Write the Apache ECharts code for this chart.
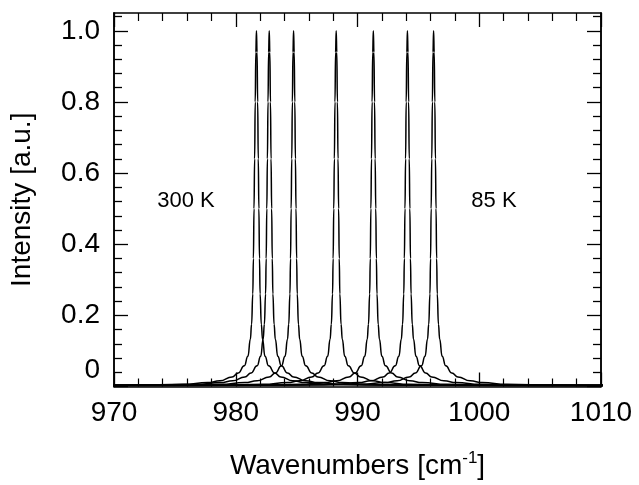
<!DOCTYPE html>
<html>
<head>
<meta charset="utf-8">
<script src="https://cdn.jsdelivr.net/npm/echarts@6/dist/echarts.min.js"></script>
<style>html,body{margin:0;padding:0;background:#fff;}#c{width:639px;height:485px;}</style>
</head>
<body>
<div id="c"></div>
<script>
// Peak centres (cm^-1), 300 K (left) to 85 K (right)
const peakCenters = [981.7, 982.75, 984.75, 988.25, 991.3, 994.1, 996.25];
// Line profile: offset from centre (cm^-1) and normalised intensity
const profileOffset = [0, 0.05, 0.1, 0.15, 0.2, 0.25, 0.3, 0.4, 0.5, 0.7, 1.0, 1.5, 2.0, 3.0, 4.0, 6.0, 10, 20, 40];
const profileIntensity = [1.0, 0.94, 0.8, 0.64, 0.5, 0.36, 0.26, 0.175, 0.133, 0.085, 0.058, 0.038, 0.027, 0.016, 0.011, 0.006, 0.004, 0.003, 0.002];
// Tick values
const xTicks = [970, 980, 990, 1000, 1010];
const yMajorTicks = [0, 0.2, 0.4, 0.6, 0.8, 1.0];
const yMinorTicks = [0.04, 0.08, 0.12, 0.16, 0.24, 0.28, 0.32, 0.36, 0.44, 0.48, 0.52, 0.56, 0.64, 0.68, 0.72, 0.76, 0.84, 0.88, 0.92, 0.96, 1.04];
const texts = { xName: 'Wavenumbers [cm', xSup: '-1', yName: 'Intensity [a.u.]', left: '300 K', right: '85 K' };

function peakData(c) {
  const pts = [];
  for (let i = profileOffset.length - 1; i >= 1; i--) pts.push([c - profileOffset[i], profileIntensity[i]]);
  pts.push([c, profileIntensity[0]]);
  for (let i = 1; i < profileOffset.length; i++) pts.push([c + profileOffset[i], profileIntensity[i]]);
  return pts;
}

const FONT = '"Liberation Sans", Arial, Helvetica, sans-serif';
const lineStyle = { color: '#000', width: 1.5 };

function xAx(pos, labels) {
  return {
    type: 'value', position: pos, min: 970, max: 1010, interval: 10,
    axisLine: { show: true, onZero: false, lineStyle: { color: '#000', width: 1.5 } },
    axisTick: { show: true, inside: true, length: 14, lineStyle: { color: '#000', width: 1.3 } },
    minorTick: { show: true, splitNumber: 5, length: 8, lineStyle: { color: '#000', width: 1.2 } },
    splitLine: { show: false }, minorSplitLine: { show: false },
    axisLabel: labels ? { show: true, fontSize: 28, fontFamily: FONT, color: '#000', margin: 13,
      customValues: xTicks, formatter: function (v) { return String(v); } } : { show: false },
    name: labels ? texts.xName + '{sup|' + texts.xSup + '}]' : '',
    nameLocation: 'middle', nameGap: 63,
    nameTextStyle: { fontSize: 28, fontFamily: FONT, color: '#000',
      rich: { sup: { fontSize: 17, fontFamily: FONT, color: '#000', padding: [0, 0, 16, 0] } } }
  };
}
function yAx(pos, values, len, labels) {
  return {
    type: 'value', position: pos, min: 0, max: 1.05,
    axisLine: { show: true, onZero: false, lineStyle: { color: '#000', width: 1.5 } },
    axisTick: { show: true, inside: true, length: len, customValues: values, lineStyle: { color: '#000', width: 1.3 } },
    splitLine: { show: false },
    axisLabel: labels ? { show: true, fontSize: 28, fontFamily: FONT, color: '#000', margin: 14,
      customValues: yMajorTicks,
      formatter: function (v) { return v === 0 ? '{z|0}' : v.toFixed(1); },
      rich: { z: { fontSize: 28, fontFamily: FONT, color: '#000', padding: [0, 0, 32, 0] } } } : { show: false },
    name: labels ? texts.yName : '',
    nameLocation: 'middle', nameGap: 78,
    nameTextStyle: { fontSize: 28, fontFamily: FONT, color: '#000' }
  };
}

const series = peakCenters.map(function (c) {
  return { type: 'line', xAxisIndex: 0, yAxisIndex: 0, data: peakData(c), showSymbol: false,
    smooth: true, smoothMonotone: 'x', clip: true, lineStyle: lineStyle, silent: true, animation: false };
});

const chart = echarts.init(document.getElementById('c'), null, { renderer: 'canvas' });
chart.setOption({
  animation: false,
  backgroundColor: '#fff',
  grid: { left: 113, right: 38, top: 13, bottom: 96 },
  xAxis: [xAx('bottom', true), xAx('top', false)],
  yAxis: [yAx('left', yMajorTicks, 14, true), yAx('left', yMinorTicks, 8, false),
          yAx('right', yMajorTicks, 14, false), yAx('right', yMinorTicks, 8, false)],
  graphic: [
    { type: 'text', x: 186, y: 201, style: { text: texts.left, font: '22px ' + FONT, fill: '#000', align: 'center', verticalAlign: 'middle' } },
    { type: 'text', x: 494, y: 201, style: { text: texts.right, font: '22px ' + FONT, fill: '#000', align: 'center', verticalAlign: 'middle' } }
  ],
  series: series
});
</script>
</body>
</html>
